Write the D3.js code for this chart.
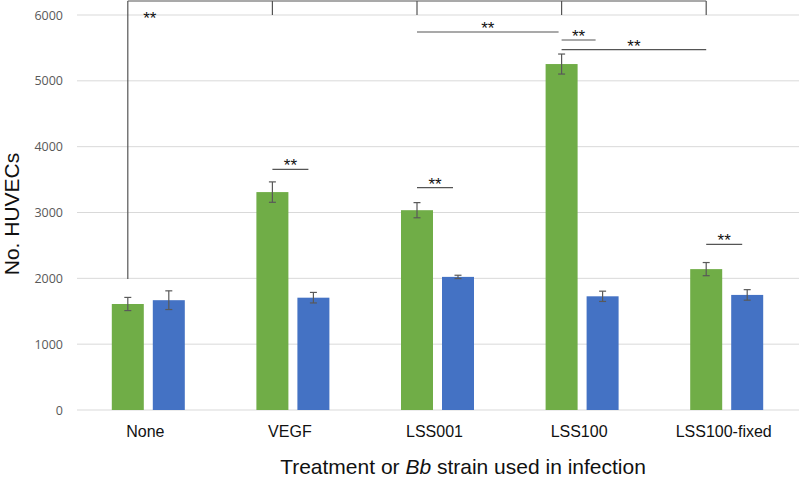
<!DOCTYPE html>
<html>
<head>
<meta charset="utf-8">
<script src="https://cdn.jsdelivr.net/npm/d3@7/dist/d3.min.js"></script>
<style>
  html, body { margin: 0; padding: 0; background: #fff; }
  svg { display: block; }
</style>
</head>
<body>
<svg id="chart" width="800" height="478"></svg>
<script>
// ---- data ----
const categories = ["None", "VEGF", "LSS001", "LSS100", "LSS100-fixed"];
const greenValues = [1610, 3310, 3035, 5255, 2140];
const greenErrors = [100, 155, 115, 152, 100];
const blueValues = [1668, 1706, 2022, 1727, 1748];
const blueErrors = [142, 80, 25, 78, 80];
const yTicks = [0, 1000, 2000, 3000, 4000, 5000, 6000];

// top bracket: drops at green bars of every group
const bracketValue = 6213;
const bracketDropEnds = [1990, 6000, 6000, 6000, 6000];
const bracketStar = { cat: "None", value: 6015 };

// significance lines: [fromCat, fromSeries, toCat, toSeries, value]
const sigFrom = ["LSS001", "LSS100", "LSS100", "VEGF", "LSS001", "LSS100-fixed"];
const sigTo = ["LSS100", "LSS100", "LSS100-fixed", "VEGF", "LSS001", "LSS100-fixed"];
const sigToSeries = ["gEnd", "short", "g", "pair", "pair", "pair"];
const sigValues = [5742, 5620, 5473, 3656, 3377, 2517];

// ---- layout ----
const svg = d3.select("#chart");
const x = d3.scaleBand().domain(categories).range([76, 799]);
const y = d3.scaleLinear().domain([0, 6000]).range([410, 15]);
const barW = 32, gap = 9;
const gx = c => x(c) + x.bandwidth() / 2 - gap / 2 - barW;   // green left
const bx = c => x(c) + x.bandwidth() / 2 + gap / 2;          // blue left
const gc = c => gx(c) + barW / 2;
const bc = c => bx(c) + barW / 2;

// gridlines
svg.append("g").selectAll("line").data(yTicks).join("line")
  .attr("x1", 77).attr("x2", 799)
  .attr("y1", d => y(d)).attr("y2", d => y(d))
  .attr("stroke", "#d9d9d9").attr("stroke-width", 1);

// y axis labels
const yAxis = d3.axisLeft(y).tickValues(yTicks).tickSize(0).tickPadding(0).tickFormat(d3.format("d"));
const yg = svg.append("g").attr("transform", "translate(63,0)").call(yAxis);
yg.select(".domain").remove();
yg.selectAll("text").attr("font-family", "'Open Sans', sans-serif").attr("font-size", 12.5)
  .attr("fill", "#595959");

// x axis labels
const xAxis = d3.axisBottom(x).tickSize(0).tickPadding(0);
const xg = svg.append("g").attr("transform", "translate(-3,426)").call(xAxis);
xg.select(".domain").remove();
xg.selectAll("text").attr("font-family", "'Liberation Sans', Arial, sans-serif")
  .attr("font-size", 16).attr("fill", "#111");

// bars
const rows = categories.map((c, i) => ({ c, g: greenValues[i], ge: greenErrors[i], b: blueValues[i], be: blueErrors[i] }));
svg.append("g").selectAll("rect").data(rows).join("rect")
  .attr("x", d => gx(d.c)).attr("width", barW)
  .attr("y", d => y(d.g)).attr("height", d => y(0) - y(d.g))
  .attr("fill", "#70ad47");
svg.append("g").selectAll("rect").data(rows).join("rect")
  .attr("x", d => bx(d.c)).attr("width", barW)
  .attr("y", d => y(d.b)).attr("height", d => y(0) - y(d.b))
  .attr("fill", "#4472c4");

// error bars
function errBars(cx, val, err) {
  const g = svg.append("g").attr("stroke", "#595959").attr("stroke-width", 1.2);
  rows.forEach(d => {
    const X = cx(d.c), lo = y(d[val] - d[err]), hi = y(d[val] + d[err]);
    g.append("line").attr("x1", X).attr("x2", X).attr("y1", lo).attr("y2", hi);
    g.append("line").attr("x1", X - 3.5).attr("x2", X + 3.5).attr("y1", lo).attr("y2", lo);
    g.append("line").attr("x1", X - 3.5).attr("x2", X + 3.5).attr("y1", hi).attr("y2", hi);
  });
}
errBars(gc, "g", "ge");
errBars(bc, "b", "be");

// significance bracket (top)
const sg = svg.append("g").attr("stroke", "#555").attr("stroke-width", 1.2).attr("fill", "none");
sg.append("line").attr("x1", gc(categories[0])).attr("x2", gc(categories[categories.length - 1]))
  .attr("y1", y(bracketValue)).attr("y2", y(bracketValue));
categories.forEach((c, i) => {
  sg.append("line").attr("x1", gc(c)).attr("x2", gc(c))
    .attr("y1", y(bracketValue)).attr("y2", y(bracketDropEnds[i]));
});

function star(xc, yc) {
  svg.append("text").attr("x", xc).attr("y", yc + 10)
    .attr("text-anchor", "middle")
    .attr("font-family", "'Liberation Sans', Arial, sans-serif")
    .attr("font-size", 17).attr("fill", "#111").text("**");
}
star(gc(bracketStar.cat) + 22, y(bracketStar.value));

sigValues.forEach((v, i) => {
  const x1 = gc(sigFrom[i]);
  let x2;
  if (sigToSeries[i] === "pair") x2 = bc(sigTo[i]) - 5;
  else if (sigToSeries[i] === "gEnd") x2 = gc(sigTo[i]) - 3;
  else if (sigToSeries[i] === "short") x2 = gc(sigTo[i]) + 34;
  else x2 = gc(sigTo[i]);
  sg.append("line").attr("x1", x1).attr("x2", x2).attr("y1", y(v)).attr("y2", y(v));
  star((x1 + x2) / 2, y(v) - 8);
});

// axis titles
const xt = svg.append("text").attr("x", 463).attr("y", 474).attr("text-anchor", "middle")
  .attr("font-family", "'Liberation Sans', Arial, sans-serif").attr("font-size", 21).attr("fill", "#111");
xt.append("tspan").text("Treatment or ");
xt.append("tspan").attr("font-style", "italic").text("Bb");
xt.append("tspan").text(" strain used in infection");

svg.append("text").attr("transform", "translate(19,214) rotate(-90)").attr("text-anchor", "middle")
  .attr("font-family", "'Liberation Sans', Arial, sans-serif").attr("font-size", 21).attr("fill", "#111")
  .text("No. HUVECs");
</script>
</body>
</html>
